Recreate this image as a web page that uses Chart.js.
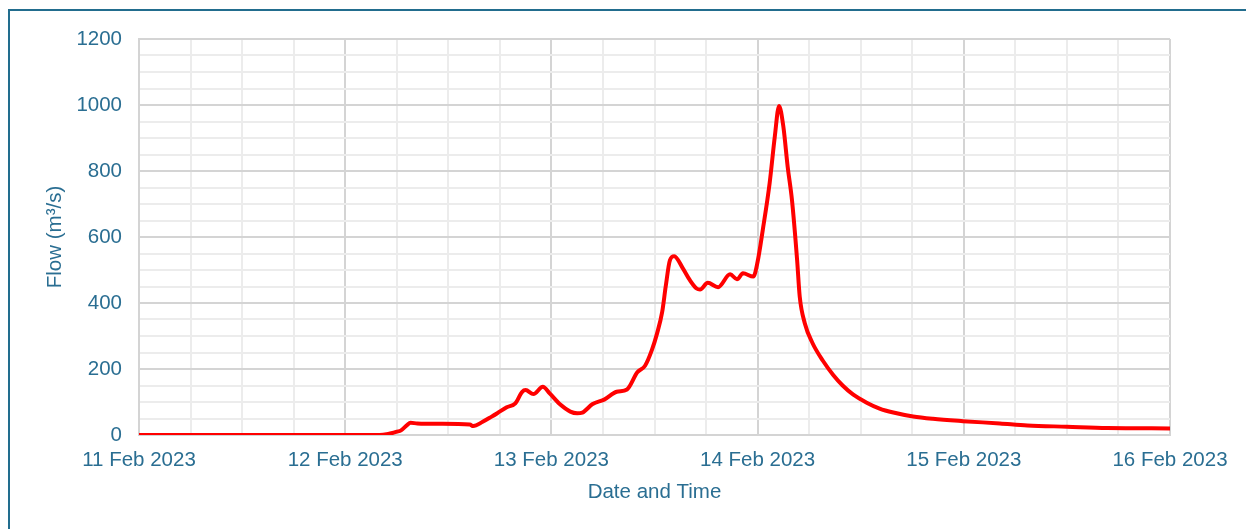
<!DOCTYPE html>
<html>
<head>
<meta charset="utf-8">
<script src="https://cdn.jsdelivr.net/npm/chart.js@4"></script>
<style>
  html, body { margin: 0; padding: 0; background: #fff; }
  #wrap { position: relative; width: 1246px; height: 529px; overflow: hidden; }
  #frame { position: absolute; left: 8px; top: 9px; width: 1260px; height: 540px; border: 2px solid #226d8e; box-sizing: border-box; }
  canvas { position: absolute; left: 0; top: 0; }
</style>
</head>
<body>
<div id="wrap">
  <div id="frame"></div>
  <canvas id="chartFlow" width="1246" height="529"></canvas>
</div>
<script>
// ── Data (hours since 11 Feb 2023 00:00) ──
const horas = [0, 28, 29, 29.5, 30, 30.5, 31.2, 31.6, 32.4, 35, 38.5, 38.9, 40, 41, 41.7, 42.8, 43.8, 44.6, 45, 45.9, 47, 47.8,
  49, 50.2, 51, 51.6, 52.8, 54.2, 55.6, 56.8, 58, 58.9, 59.7, 60.3, 60.9, 61.3, 61.8, 62.3, 63.3, 64.1, 64.9, 65.3, 66.2,
  67.4, 68.8, 69.6, 70.3, 71.5, 72, 72.6, 73.4, 74, 74.5, 75, 75.5, 76, 76.6, 76.9, 77.5, 78.4, 79.6, 80.8, 81.9, 83.1,
  84.7, 86.2, 87.8, 90.1, 92.4, 95.9, 100.2, 103.4, 108, 112.7, 120];
const caudal = [0, 0, 3, 6, 10, 14, 30, 37, 35, 34, 32, 27, 40, 55, 66, 84, 96, 131, 136, 124, 146, 126,
  93, 71, 66, 68, 94, 108, 131, 138, 190, 210, 258, 308, 374, 449, 530, 542, 505, 470, 444, 441, 461,
  448, 487, 472, 490, 480, 525, 621, 763, 904, 997, 934, 813, 712, 530, 420, 338, 278, 225, 182, 150, 123,
  98, 80, 68, 56, 49, 42, 35, 29, 25, 21, 20];
const diasLabels = ['11 Feb 2023', '12 Feb 2023', '13 Feb 2023', '14 Feb 2023', '15 Feb 2023', '16 Feb 2023'];

const TXT = '#2a6e92';
const GRID_MAJOR = '#d4d4d4';
const GRID_MINOR = '#ececec';
const FONT = 'Liberation Sans, Arial, sans-serif';

const puntos = horas.map((h, i) => ({ x: h, y: caudal[i] }));

new Chart(document.getElementById('chartFlow'), {
  type: 'line',
  data: {
    datasets: [{
      data: puntos,
      borderColor: '#ff0000',
      borderWidth: 4,
      pointRadius: 0,
      cubicInterpolationMode: 'monotone',
      fill: false
    }]
  },
  options: {
    responsive: false,
    animation: false,
    layout: { padding: { top: 39, right: 76, bottom: 0, left: 0 } },
    plugins: { legend: { display: false }, tooltip: { enabled: false } },
    scales: {
      x: {
        type: 'linear', min: 0, max: 120,
        afterFit: s => { s.height = 94; },
        border: { display: true, color: GRID_MAJOR, width: 2 },
        grid: {
          drawTicks: false,
          color: c => (c.tick && c.tick.value % 24 === 0) ? GRID_MAJOR : GRID_MINOR,
          lineWidth: 2
        },
        ticks: {
          stepSize: 6, autoSkip: false, maxRotation: 0, padding: 13,
          color: TXT, font: { family: FONT, size: 20.5 },
          callback: v => v % 24 === 0 ? diasLabels[v / 24] : ''
        },
        title: { display: true, text: 'Date and Time', color: TXT, font: { family: FONT, size: 20.5 }, padding: { top: 0, bottom: 24 } }
      },
      y: {
        min: 0, max: 1200,
        afterFit: s => { s.width = 139; },
        border: { display: true, color: GRID_MAJOR, width: 2 },
        grid: {
          drawTicks: false,
          color: c => (c.tick && c.tick.value % 200 === 0) ? GRID_MAJOR : GRID_MINOR,
          lineWidth: 2
        },
        ticks: {
          stepSize: 50, autoSkip: false, padding: 17,
          color: TXT, font: { family: FONT, size: 20.5 },
          callback: v => v % 200 === 0 ? v : ''
        },
        title: { display: true, text: 'Flow (m³/s)', color: TXT, font: { family: FONT, size: 20.5 }, padding: { top: 43, bottom: 0 } }
      }
    }
  }
});
</script>
</body>
</html>
